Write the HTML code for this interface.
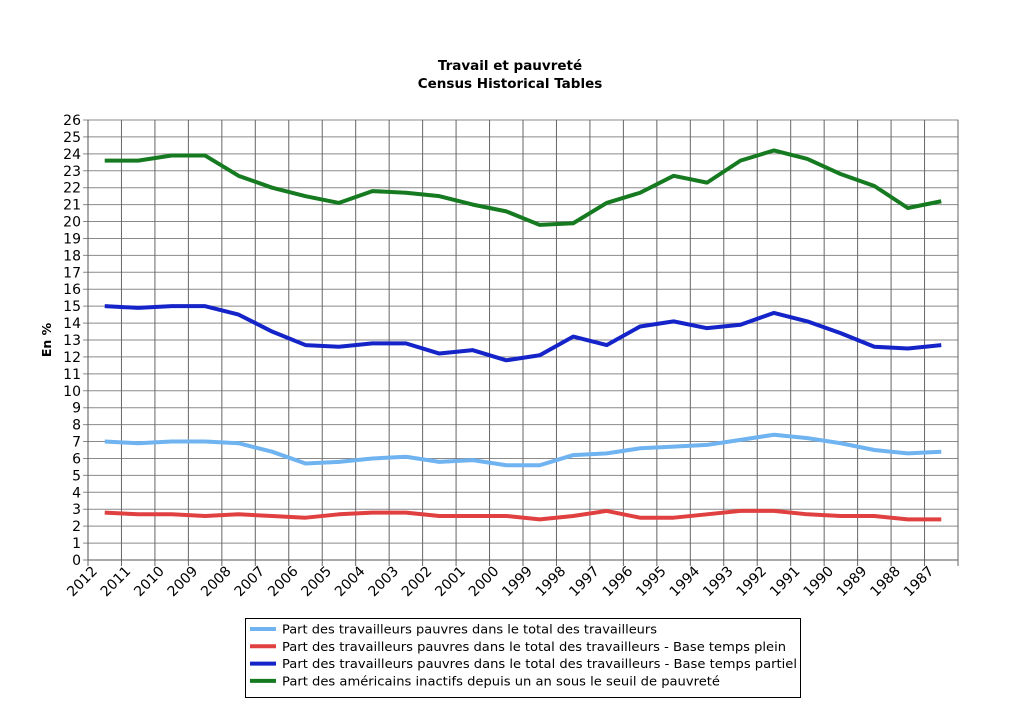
<!DOCTYPE html>
<html><head><meta charset="utf-8"><style>
body{margin:0;background:#fff;}
svg{display:block;font-family:"DejaVu Sans","Liberation Sans",sans-serif;}
</style></head><body>
<svg id="chart" width="1024" height="723">
<text x="510" y="70" text-anchor="middle" font-weight="bold" font-size="13.5">Travail et pauvreté</text>
<text x="510" y="88" text-anchor="middle" font-weight="bold" font-size="13.5">Census Historical Tables</text>
<text transform="translate(51,340) rotate(-90)" text-anchor="middle" font-weight="bold" font-size="12.5">En %</text>
<g id="grid"></g><g id="series"></g><g id="axes"></g>
<g>
<rect x="245.5" y="618.5" width="555" height="79" fill="#fff" stroke="#000" stroke-width="1"/>
<g id="legend"></g></g>
</svg>
<script>
const categories=["2012","2011","2010","2009","2008","2007","2006","2005","2004","2003","2002","2001","2000","1999","1998","1997","1996","1995","1994","1993","1992","1991","1990","1989","1988","1987"];
const yTicks=[0,1,2,3,4,5,6,7,8,9,10,11,12,13,14,15,16,17,18,19,20,21,22,23,24,25,26];
const seriesNames=["Part des travailleurs pauvres dans le total des travailleurs","Part des travailleurs pauvres dans le total des travailleurs - Base temps plein","Part des travailleurs pauvres dans le total des travailleurs - Base temps partiel","Part des américains inactifs depuis un an sous le seuil de pauvreté"];
const seriesColors=["#6fb3f0","#e04040","#1424c8","#167a20"];
const lightBlue=[7.0,6.9,7.0,7.0,6.9,6.4,5.7,5.8,6.0,6.1,5.8,5.9,5.6,5.6,6.2,6.3,6.6,6.7,6.8,7.1,7.4,7.2,6.9,6.5,6.3,6.4];
const red=[2.8,2.7,2.7,2.6,2.7,2.6,2.5,2.7,2.8,2.8,2.6,2.6,2.6,2.4,2.6,2.9,2.5,2.5,2.7,2.9,2.9,2.7,2.6,2.6,2.4,2.4];
const blue=[15.0,14.9,15.0,15.0,14.5,13.5,12.7,12.6,12.8,12.8,12.2,12.4,11.8,12.1,13.2,12.7,13.8,14.1,13.7,13.9,14.6,14.1,13.4,12.6,12.5,12.7];
const green=[23.6,23.6,23.9,23.9,22.7,22.0,21.5,21.1,21.8,21.7,21.5,21.0,20.6,19.8,19.9,21.1,21.7,22.7,22.3,23.6,24.2,23.7,22.8,22.1,20.8,21.2];
const L=88,R=958,T=120,B=560,yMax=26;
const bw=(R-L)/categories.length;
const x=i=>L+bw*(i+0.5), xe=i=>L+bw*i, y=v=>B-(v/yMax)*(B-T);
const NS="http://www.w3.org/2000/svg";
function mk(parent,tag,attrs){const e=document.createElementNS(NS,tag);for(const k in attrs)e.setAttribute(k,attrs[k]);document.getElementById(parent).appendChild(e);return e;}
mk("grid","rect",{x:L,y:T,width:R-L,height:B-T,fill:"#fff",stroke:"#888"});
yTicks.forEach(t=>{
 const g=mk("grid","line",{x1:L-5,x2:R,y1:y(t),y2:y(t),stroke:"#8a8a8a","stroke-width":1});
 
 
 const tx=mk("axes","text",{x:L-7,y:y(t)+5,"text-anchor":"end","font-size":14});
 tx.textContent=t;
 
 
});
for(let i=0;i<=categories.length;i++){
 const g=mk("grid","line",{x1:xe(i),x2:xe(i),y1:T,y2:B+6,stroke:"#666","stroke-width":1});
 
 
}
categories.forEach((c,i)=>{
 const tx=mk("axes","text",{transform:`translate(${xe(i)+10},${B+12}) rotate(-45)`,"text-anchor":"end","font-size":14});
 tx.textContent=c;
 
 
});
mk("axes","line",{x1:L,x2:R,y1:B,y2:B,stroke:"#555"});
mk("axes","line",{x1:L,x2:L,y1:T,y2:B,stroke:"#555"});
const allSeries=[lightBlue,red,blue,green];
const sNames=["series-working-poor","series-full-time","series-part-time","series-inactive"];
const legendWidths=[375,504,515,438];
allSeries.forEach((s,k)=>{
 const p=mk("series","polyline",{points:s.map((v,i)=>x(i)+","+y(v)).join(" "),fill:"none",stroke:seriesColors[k],"stroke-width":4,"stroke-linejoin":"round","stroke-linecap":"butt"});
 
 
 const ly=629+k*17.3;
 const sw=mk("legend","line",{x1:250,x2:276,y1:ly,y2:ly,stroke:seriesColors[k],"stroke-width":4});
 
 
 const t=mk("legend","text",{x:282,y:ly+4.5,"font-size":12.5,textLength:legendWidths[k],lengthAdjust:"spacingAndGlyphs"});
 t.textContent=seriesNames[k];
 
 
});
</script>
</body></html>
